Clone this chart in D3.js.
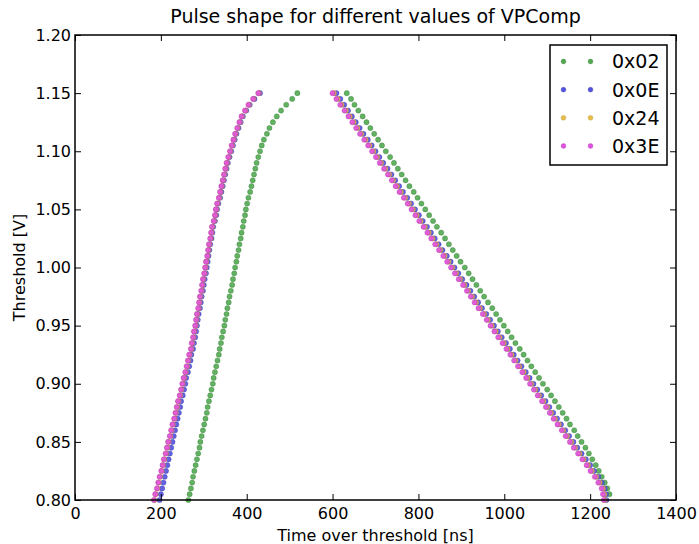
<!DOCTYPE html>
<html>
<head>
<meta charset="utf-8">
<script src="https://cdn.jsdelivr.net/npm/d3@7"></script>
<style>
  html, body { margin: 0; padding: 0; background: #fff; }
  svg { display: block; font-family: "DejaVu Sans", sans-serif; }
</style>
</head>
<body>
<svg id="chart" width="699" height="544"></svg>
<script>
// Threshold levels scanned (V), shared by every setting
const thresholds = [
  0.800, 0.805, 0.810, 0.815, 0.820, 0.825, 0.830, 0.835, 0.840, 0.845,
  0.850, 0.855, 0.860, 0.865, 0.870, 0.875, 0.880, 0.885, 0.890, 0.895,
  0.900, 0.905, 0.910, 0.915, 0.920, 0.925, 0.930, 0.935, 0.940, 0.945,
  0.950, 0.955, 0.960, 0.965, 0.970, 0.975, 0.980, 0.985, 0.990, 0.995,
  1.000, 1.005, 1.010, 1.015, 1.020, 1.025, 1.030, 1.035, 1.040, 1.045,
  1.050, 1.055, 1.060, 1.065, 1.070, 1.075, 1.080, 1.085, 1.090, 1.095,
  1.100, 1.105, 1.110, 1.115, 1.120, 1.125, 1.130, 1.135, 1.140, 1.145,
  1.150
];

const seriesNames = ["0x02", "0x0E", "0x24", "0x3E"];
const seriesColors = ["#52a852", "#5252de", "#e8bd4a", "#e052e0"];
const seriesEdges = ["#2f7a2f", "#2f2fa8", "#b08a20", "#a830a8"];

// Leading-edge crossing times (ns), one per threshold
const rise0x02 = [
  264, 267, 270, 273, 275, 278, 281, 284, 287, 290,
  292, 295, 298, 301, 304, 307, 309, 312, 315, 318,
  321, 323, 326, 329, 332, 335, 337, 340, 342, 345,
  348, 350, 353, 355, 358, 360, 363, 366, 368, 371,
  373, 376, 378, 381, 383, 386, 388, 391, 393, 396,
  398, 401, 404, 408, 411, 414, 417, 420, 423, 427,
  431, 435, 440, 447, 453, 461, 470, 480, 492, 506,
  518
];
const rise0x0E = [
  197, 200, 203, 206, 209, 212, 215, 218, 221, 224,
  227, 230, 233, 236, 239, 242, 245, 247, 251, 254,
  257, 259, 263, 266, 269, 271, 275, 277, 280, 282,
  284, 286, 288, 291, 293, 295, 298, 300, 302, 305,
  307, 309, 311, 313, 315, 318, 320, 322, 326, 329,
  331, 334, 338, 341, 344, 347, 350, 353, 356, 360,
  364, 368, 372, 376, 381, 386, 391, 399, 407, 418,
  431
];
const rise0x24 = [
  185, 188, 192, 195, 198, 202, 205, 208, 212, 215,
  218, 222, 225, 228, 232, 235, 238, 241, 245, 248,
  251, 254, 258, 261, 264, 267, 271, 273, 276, 278,
  281, 283, 285, 288, 290, 292, 295, 297, 299, 302,
  304, 306, 309, 311, 313, 316, 318, 320, 324, 327,
  329, 332, 336, 339, 342, 345, 348, 351, 354, 358,
  362, 366, 370, 374, 379, 384, 389, 397, 405, 416,
  428
];
const rise0x3E = [
  184, 187, 191, 194, 197, 201, 204, 207, 211, 214,
  217, 221, 224, 227, 231, 234, 237, 240, 244, 247,
  250, 253, 257, 260, 263, 266, 270, 272, 275, 277,
  280, 282, 284, 287, 289, 291, 294, 296, 298, 301,
  303, 305, 308, 310, 312, 315, 317, 319, 323, 326,
  328, 331, 335, 338, 341, 344, 347, 350, 353, 357,
  361, 365, 369, 373, 378, 383, 388, 396, 404, 415,
  427
];

// Trailing-edge crossing times (ns), one per threshold (null = not reached)
const fall0x02 = [
  null, 1245, 1240, 1234, 1227, 1220, 1213, 1205, 1197, 1189,
  1180, 1171, 1163, 1153, 1145, 1136, 1127, 1118, 1109, 1100,
  1090, 1081, 1072, 1063, 1054, 1045, 1036, 1026, 1017, 1008,
  999, 990, 981, 972, 962, 953, 944, 935, 926, 917,
  908, 898, 889, 880, 871, 862, 853, 843, 834, 825,
  816, 807, 798, 789, 779, 770, 761, 752, 743, 734,
  724, 715, 706, 697, 688, 679, 670, 660, 651, 643,
  633
];
const fall0x0E = [
  1238, 1237, 1234, 1227, 1219, 1209, 1200, 1190, 1180, 1170,
  1161, 1151, 1142, 1132, 1123, 1114, 1105, 1096, 1086, 1077,
  1068, 1059, 1050, 1040, 1031, 1022, 1013, 1004, 994, 985,
  976, 967, 958, 948, 939, 930, 921, 912, 902, 893,
  884, 875, 866, 856, 847, 838, 829, 820, 810, 801,
  792, 783, 774, 764, 755, 746, 737, 728, 718, 709,
  700, 691, 682, 672, 663, 654, 645, 636, 627, 618,
  609
];
const fall0x24 = [
  1234, 1233, 1230, 1222, 1214, 1204, 1195, 1185, 1175, 1165,
  1156, 1146, 1137, 1127, 1118, 1109, 1100, 1091, 1081, 1072,
  1063, 1054, 1045, 1035, 1026, 1017, 1008, 999, 989, 980,
  971, 962, 953, 943, 934, 925, 916, 907, 897, 888,
  879, 870, 861, 851, 842, 833, 824, 815, 805, 796,
  787, 778, 769, 759, 750, 741, 732, 723, 713, 704,
  695, 686, 677, 667, 658, 649, 640, 631, 621, 612,
  603
];
const fall0x3E = [
  1232, 1230, 1227, 1219, 1211, 1201, 1192, 1182, 1172, 1162,
  1153, 1143, 1134, 1124, 1115, 1106, 1097, 1088, 1078, 1069,
  1060, 1051, 1042, 1032, 1023, 1014, 1005, 996, 986, 977,
  968, 959, 950, 940, 931, 922, 913, 904, 894, 885,
  876, 867, 858, 848, 839, 830, 821, 812, 802, 793,
  784, 775, 766, 756, 747, 738, 729, 720, 710, 701,
  692, 683, 674, 664, 655, 646, 637, 628, 618, 609,
  600
];

const riseTimes = [rise0x02, rise0x0E, rise0x24, rise0x3E];
const fallTimes = [fall0x02, fall0x0E, fall0x24, fall0x3E];

const xTicks = [0, 200, 400, 600, 800, 1000, 1200, 1400];
const yTicks = [0.80, 0.85, 0.90, 0.95, 1.00, 1.05, 1.10, 1.15, 1.20];

const titleText = "Pulse shape for different values of VPComp";
const xLabel = "Time over threshold [ns]";
const yLabel = "Threshold [V]";

// ---- layout ----
const svg = d3.select("#chart");
const plotLeft = 75, plotRight = 676, plotTop = 35, plotBottom = 500;

const x = d3.scaleLinear().domain([0, 1400]).range([plotLeft, plotRight]);
const y = d3.scaleLinear().domain([0.80, 1.20]).range([plotBottom, plotTop]);

// data points: rising and falling edge for each setting, drawn in series order
const plot = svg.append("g").attr("class", "points");
seriesNames.forEach((name, s) => {
  const pts = [];
  thresholds.forEach((v, i) => {
    if (riseTimes[s][i] != null) pts.push([riseTimes[s][i], v]);
    if (fallTimes[s][i] != null) pts.push([fallTimes[s][i], v]);
  });
  plot.append("g")
    .selectAll("circle")
    .data(pts)
    .join("circle")
    .attr("cx", d => x(d[0]))
    .attr("cy", d => y(d[1]))
    .attr("r", 2.6)
    .attr("fill", seriesColors[s])
    .attr("fill-opacity", 0.9)
    .attr("stroke", seriesEdges[s])
    .attr("stroke-opacity", 0.6)
    .attr("stroke-width", 0.6);
});

// axes with inward ticks on all four sides
function styleAxis(g) {
  g.select(".domain").remove();
  g.selectAll(".tick line").attr("stroke", "#000").attr("stroke-width", 1);
  g.selectAll(".tick text")
    .attr("fill", "#000")
    .style("font-size", "16px")
    .style("font-family", "DejaVu Sans, sans-serif");
}

svg.append("g")
  .attr("transform", `translate(0,${plotBottom})`)
  .call(d3.axisBottom(x).tickValues(xTicks).tickSize(-6).tickPadding(8)
    .tickFormat(d3.format("d")))
  .call(styleAxis);

svg.append("g")
  .attr("transform", `translate(0,${plotTop})`)
  .call(d3.axisTop(x).tickValues(xTicks).tickSize(-6).tickFormat(""))
  .call(styleAxis);

svg.append("g")
  .attr("transform", `translate(${plotLeft},0)`)
  .call(d3.axisLeft(y).tickValues(yTicks).tickSize(-6).tickPadding(4)
    .tickFormat(d3.format(".2f")))
  .call(styleAxis);

svg.append("g")
  .attr("transform", `translate(${plotRight},0)`)
  .call(d3.axisRight(y).tickValues(yTicks).tickSize(-6).tickFormat(""))
  .call(styleAxis);

// frame
svg.append("rect")
  .attr("x", plotLeft).attr("y", plotTop)
  .attr("width", plotRight - plotLeft).attr("height", plotBottom - plotTop)
  .attr("fill", "none")
  .attr("stroke", "#000")
  .attr("stroke-width", 1.5);

// title and axis labels
svg.append("text")
  .attr("x", (plotLeft + plotRight) / 2).attr("y", 23)
  .attr("text-anchor", "middle")
  .style("font-size", "19px")
  .text(titleText);

svg.append("text")
  .attr("x", (plotLeft + plotRight) / 2).attr("y", 541)
  .attr("text-anchor", "middle")
  .style("font-size", "16px")
  .text(xLabel);

svg.append("text")
  .attr("transform", `translate(25,${(plotTop + plotBottom) / 2}) rotate(-90)`)
  .attr("text-anchor", "middle")
  .style("font-size", "16px")
  .text(yLabel);

// legend
const lg = svg.append("g").attr("class", "legend");
const lgX = 550, lgY = 45, lgW = 117, lgH = 120;
lg.append("rect")
  .attr("x", lgX).attr("y", lgY)
  .attr("width", lgW).attr("height", lgH)
  .attr("fill", "#fff")
  .attr("stroke", "#000")
  .attr("stroke-width", 1.5);

const rowY = d3.scalePoint().domain(seriesNames).range([61.5, 146]);
seriesNames.forEach((name, s) => {
  const row = lg.append("g").attr("transform", `translate(0,${rowY(name)})`);
  [563.5, 590.5].forEach(mx => {
    row.append("circle")
      .attr("cx", mx).attr("cy", 0).attr("r", 2.4)
      .attr("fill", seriesColors[s])
      .attr("stroke", seriesEdges[s])
      .attr("stroke-opacity", 0.6)
      .attr("stroke-width", 0.6);
  });
  row.append("text")
    .attr("x", 612).attr("y", 0)
    .attr("dy", "0.36em")
    .style("font-size", "19px")
    .text(name);
});
</script>
</body>
</html>
